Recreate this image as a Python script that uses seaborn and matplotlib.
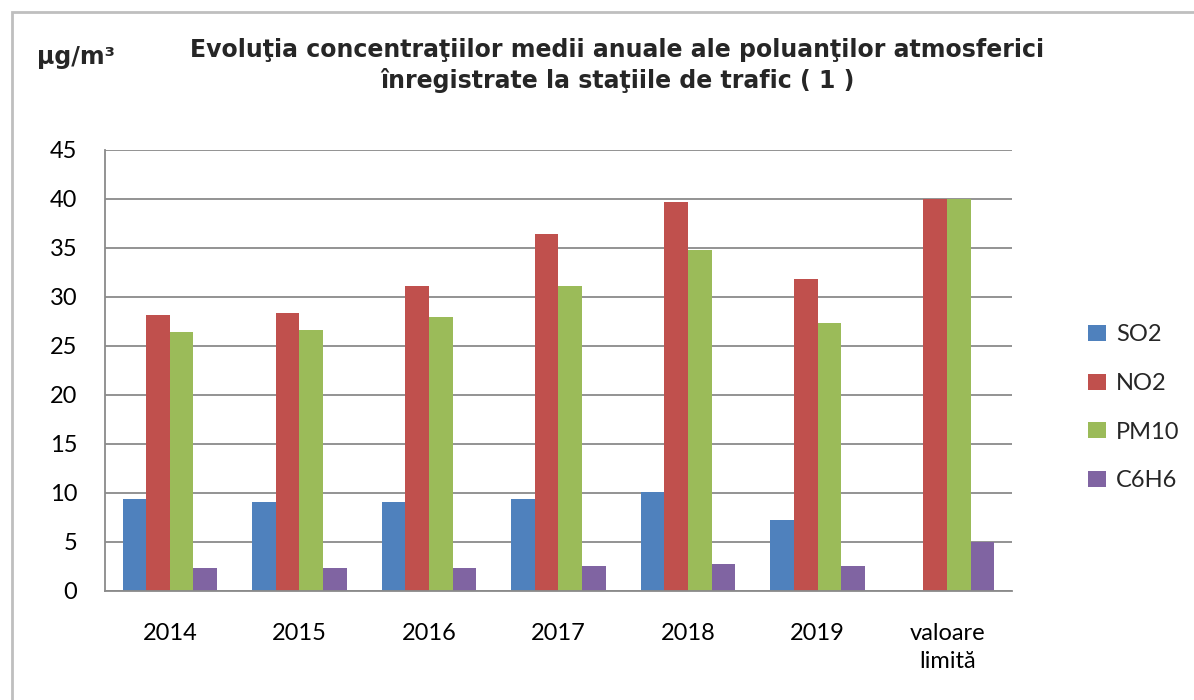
"""Grouped bar chart: annual mean pollutant concentrations at traffic stations."""

import matplotlib
matplotlib.use("Agg")
import matplotlib.pyplot as plt
import matplotlib.patches as mpatches
import numpy as np
import pandas as pd
import seaborn as sns

years = ["2014", "2015", "2016", "2017", "2018", "2019", "valoare\nlimită"]
pollutants = ["SO2", "NO2", "PM10", "C6H6"]

so2 = [9.4, 9.1, 9.1, 9.4, 10.1, 7.2, np.nan]
no2 = [28.1, 28.3, 31.1, 36.4, 39.7, 31.8, 40.0]
pm10 = [26.4, 26.6, 27.9, 31.1, 34.8, 27.3, 40.0]
c6h6 = [2.3, 2.3, 2.3, 2.5, 2.7, 2.5, 5.0]

colors = ["#4F81BD", "#C0504D", "#9BBB59", "#8064A2"]


def build_frame() -> pd.DataFrame:
    rows = []
    for name, values in zip(pollutants, [so2, no2, pm10, c6h6]):
        for year, v in zip(years, values):
            rows.append({"An": year, "Poluant": name, "Valoare": v})
    return pd.DataFrame(rows)


def main() -> None:
    df = build_frame()
    sns.set_theme(style="white")
    plt.rcParams["font.family"] = ["Lato", "DejaVu Sans"]

    fig = plt.figure(figsize=(11.94, 7.0), dpi=100)
    ax = fig.add_axes([0.088, 0.156, 0.7595, 0.63])

    sns.barplot(data=df, x="An", y="Valoare", hue="Poluant", order=years,
                hue_order=pollutants, palette=colors, width=0.73,
                saturation=1, linewidth=0, edgecolor="none", ax=ax, legend=True)

    ax.set_ylim(0, 45)
    ax.set_yticks(range(0, 46, 5))
    ax.set_xlim(-0.5, len(years) - 0.5)
    ax.yaxis.grid(True, color="#8a8a8a", linewidth=1.3)
    ax.set_axisbelow(True)
    for side in ["top", "right"]:
        ax.spines[side].set_visible(False)
    for side in ["left", "bottom"]:
        ax.spines[side].set_color("#8a8a8a")
        ax.spines[side].set_linewidth(1.3)
    ax.tick_params(axis="both", length=0, labelsize=17, colors="black")
    ax.tick_params(axis="x", pad=23)
    ax.tick_params(axis="y", pad=20)
    for lbl in ax.get_xticklabels():
        lbl.set_linespacing(1.4)
    ax.set_xlabel("")
    ax.set_ylabel("")

    handles, labels = ax.get_legend_handles_labels()
    ax.legend(handles, labels, loc="center left", bbox_to_anchor=(1.06, 0.415),
              frameon=False, labelspacing=1.17, handlelength=0.8,
              handleheight=0.65, handletextpad=0.4,
              prop={"family": ["Lato", "DejaVu Sans"], "size": 17})

    fig.text(0.517, 0.906,
             "Evoluţia concentraţiilor medii anuale ale poluanţilor atmosferici\n"
             "înregistrate la staţiile de trafic ( 1 )",
             ha="center", va="center", fontsize=17, fontweight="bold",
             family=["DejaVu Sans"], linespacing=1.3)
    fig.text(0.031, 0.918, "µg/m³", ha="left", va="center", fontsize=17,
             fontweight="bold", family=["DejaVu Sans"])

    # outer chart frame, as in the original screenshot
    fig.patches.append(mpatches.Rectangle((12 / 1194, -0.1), 1.2, 1 - 12 / 700 + 0.1,
                                          transform=fig.transFigure, fill=False,
                                          edgecolor="#bfbfbf", linewidth=2))

    fig.savefig("out.png", dpi=100)
    plt.close(fig)


if __name__ == "__main__":
    main()
